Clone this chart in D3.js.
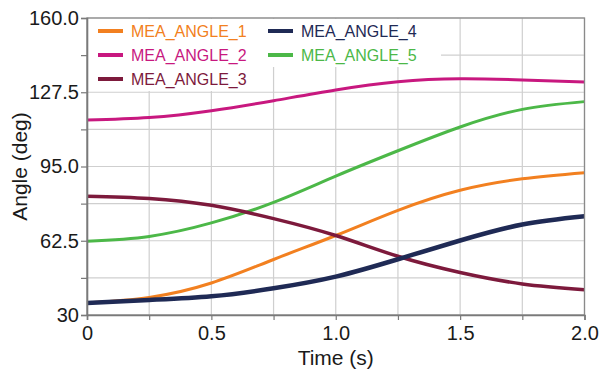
<!DOCTYPE html>
<html>
<head>
<meta charset="utf-8">
<script src="https://cdn.jsdelivr.net/npm/d3@7"></script>
<style>
  body { margin: 0; background: #fff; }
  text { font-family: "Liberation Sans", Arial, sans-serif; }
</style>
</head>
<body>
<script>
// time samples (s)
const TIMES = [0, 0.25, 0.5, 0.75, 1.0, 1.25, 1.5, 1.75, 2.0];

// angles (deg)
const ANGLE_1 = [35.3, 37.7, 44.0, 54.3, 64.8, 75.8, 84.6, 89.6, 92.3];
const ANGLE_2 = [115.3, 116.4, 119.4, 123.8, 128.5, 132.1, 133.4, 132.9, 132.0];
const ANGLE_3 = [82.0, 81.0, 78.0, 72.2, 64.8, 55.7, 48.6, 43.6, 41.1];
const ANGLE_4 = [35.2, 36.6, 38.2, 41.7, 46.8, 54.4, 62.6, 69.6, 73.2];
const ANGLE_5 = [62.3, 64.4, 70.3, 79.3, 90.8, 101.9, 112.3, 120.0, 123.4];

const NAMES = ["MEA_ANGLE_1", "MEA_ANGLE_2", "MEA_ANGLE_3", "MEA_ANGLE_4", "MEA_ANGLE_5"];
const COLORS = ["#F28020", "#C8187F", "#7D1A3C", "#1F2A55", "#4CB848"];
const WIDTHS = [3, 3, 3.5, 4.5, 3];
const SERIES = [ANGLE_1, ANGLE_2, ANGLE_3, ANGLE_4, ANGLE_5];

const X_TICKS = [0, 0.5, 1.0, 1.5, 2.0];
const X_LABELS = ["0", "0.5", "1.0", "1.5", "2.0"];
const Y_TICKS = [30, 62.5, 95, 127.5, 160];
const Y_LABELS = ["30", "62.5", "95.0", "127.5", "160.0"];

const W = 600, H = 371;
const L = 87, R = 584.5, T = 18, B = 315;

const x = d3.scaleLinear().domain([0, 2]).range([L, R]);
const y = d3.scaleLinear().domain([30, 160]).range([B, T]);

const svg = d3.select("body").append("svg")
  .attr("width", W)
  .attr("height", H);

// grid
const xGrid = d3.range(0, 2.0001, 0.25);
const yGrid = d3.range(30, 160.001, 16.25);

svg.append("g").selectAll("line").data(xGrid).join("line")
  .attr("x1", d => x(d)).attr("x2", d => x(d))
  .attr("y1", T).attr("y2", B)
  .attr("stroke", "#cfcfcf").attr("stroke-width", 1.2);

svg.append("g").selectAll("line").data(yGrid).join("line")
  .attr("x1", L).attr("x2", R)
  .attr("y1", d => y(d)).attr("y2", d => y(d))
  .attr("stroke", "#cfcfcf").attr("stroke-width", 1.2);

// legend backgrounds hide the grid under the entries
const legendRows = [
  {i: 0, col: 0, row: 0}, {i: 1, col: 0, row: 1}, {i: 2, col: 0, row: 2},
  {i: 3, col: 1, row: 0}, {i: 4, col: 1, row: 1}
];
const colX = [98, 268];
const rowY = [31, 55, 79];

svg.append("rect").attr("x", L + 1).attr("y", T + 1).attr("width", 440 - L).attr("height", 67 - T - 1).attr("fill", "#fff");
svg.append("rect").attr("x", L + 1).attr("y", 66).attr("width", 258 - L).attr("height", 25).attr("fill", "#fff");

// lines
const line = d3.line()
  .x((d, i) => x(TIMES[i]))
  .y(d => y(d))
  .curve(d3.curveNatural);

const drawOrder = [1, 4, 0, 2, 3];
drawOrder.forEach(k => {
  svg.append("path")
    .attr("d", line(SERIES[k]))
    .attr("fill", "none")
    .attr("stroke", COLORS[k])
    .attr("stroke-width", WIDTHS[k])
    .attr("stroke-linecap", "butt");
});

// frame
svg.append("rect")
  .attr("x", L).attr("y", T)
  .attr("width", R - L).attr("height", B - T)
  .attr("fill", "none")
  .attr("stroke", "#8a8a8a").attr("stroke-width", 1.3);

// axes
const xAxis = d3.axisBottom(x).tickValues(xGrid).tickSize(5)
  .tickFormat(d => { const j = X_TICKS.indexOf(d); return j >= 0 ? X_LABELS[j] : ""; });
const yAxis = d3.axisLeft(y).tickValues(yGrid).tickSize(6)
  .tickFormat(d => { const j = Y_TICKS.indexOf(d); return j >= 0 ? Y_LABELS[j] : ""; });

const gx = svg.append("g").attr("transform", `translate(0,${B})`).call(xAxis);
const gy = svg.append("g").attr("transform", `translate(${L},0)`).call(yAxis);

[gx, gy].forEach(g => {
  g.select(".domain").attr("stroke", "#7a7a7a").attr("stroke-width", 1.6);
  g.selectAll(".tick line").attr("stroke", "#7a7a7a").attr("stroke-width", 1.2);
  g.selectAll(".tick text")
    .attr("fill", "#1a1a1a")
    .style("font-size", "20px")
    .style("font-family", "'Liberation Sans', Arial, sans-serif");
});
gx.selectAll(".tick text").attr("dy", "0.85em").attr("y", 8);
gy.selectAll(".tick text").attr("x", -8);

// axis titles
svg.append("text")
  .attr("x", (L + R) / 2).attr("y", 365)
  .attr("text-anchor", "middle")
  .attr("fill", "#1a1a1a")
  .style("font-size", "21px")
  .text("Time (s)");

svg.append("text")
  .attr("transform", `translate(27,${(T + B) / 2}) rotate(-90)`)
  .attr("text-anchor", "middle")
  .attr("fill", "#1a1a1a")
  .style("font-size", "21px")
  .text("Angle (deg)");

// legend
const lg = svg.append("g");
legendRows.forEach(r => {
  const lx = colX[r.col], ly = rowY[r.row];
  lg.append("line")
    .attr("x1", lx).attr("x2", lx + 25)
    .attr("y1", ly).attr("y2", ly)
    .attr("stroke", COLORS[r.i]).attr("stroke-width", 4);
  lg.append("text")
    .attr("x", lx + 33).attr("y", ly)
    .attr("dy", "0.36em")
    .attr("fill", COLORS[r.i])
    .style("font-size", "16px")
    .text(NAMES[r.i]);
});
</script>
</body>
</html>
